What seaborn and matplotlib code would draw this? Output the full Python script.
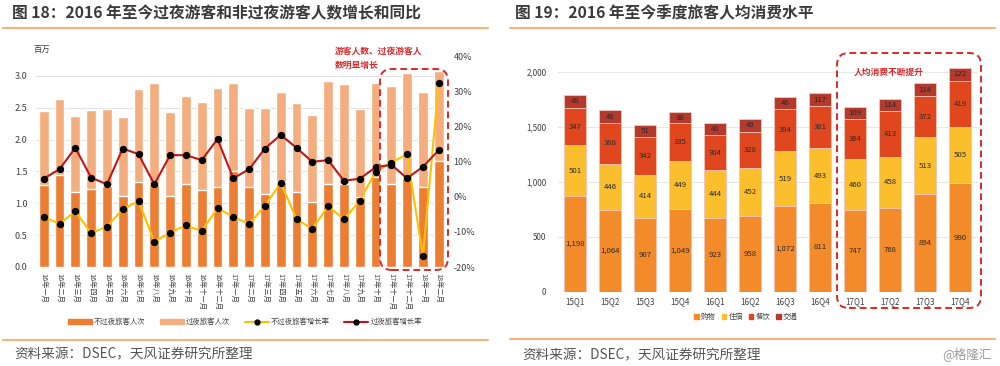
import numpy as np
import pandas as pd
import matplotlib
matplotlib.use("Agg")
import matplotlib.pyplot as plt
import seaborn as sns
from matplotlib.patches import Patch, FancyBboxPatch
from matplotlib.lines import Line2D
from matplotlib.transforms import IdentityTransform
from matplotlib.ticker import FuncFormatter

# ---- data: figure 18 (millions of visitors, yoy %) ----
month_cn = ['一', '二', '三', '四', '五', '六', '七', '八', '九', '十', '十一', '十二']
month_labels = ([f'16年{m}月' for m in month_cn] + [f'17年{m}月' for m in month_cn]
                + ['18年一月', '18年二月'])
same_day = [1.29, 1.44, 1.18, 1.23, 1.27, 1.12, 1.33, 1.30, 1.11, 1.30, 1.21, 1.25, 1.50,
            1.25, 1.15, 1.33, 1.18, 1.02, 1.30, 1.31, 1.10, 1.42, 1.31, 1.39, 1.25, 1.67]
overnight = [1.16, 1.20, 1.19, 1.24, 1.21, 1.23, 1.47, 1.58, 1.32, 1.38, 1.38, 1.56, 1.38,
             1.24, 1.35, 1.41, 1.39, 1.36, 1.62, 1.56, 1.38, 1.47, 1.53, 1.66, 1.49, 1.40]
same_day_yoy = [-5.7, -7.7, -4.1, -10.3, -8.5, -3.5, -1.2, -12.8, -10.2, -8.1, -9.8, -3.2, -5.7,
                -7.7, -2.6, 4.1, -6.3, -9.2, -2.6, -6.4, -1.1, 7.1, 9.8, 12.2, -17.0, 32.4]
overnight_yoy = [5.2, 7.9, 14.0, 5.5, 3.6, 13.8, 12.2, 3.6, 11.9, 11.9, 10.5, 16.5, 5.3,
                 7.9, 13.8, 17.7, 14.0, 10.0, 10.5, 4.6, 5.2, 8.4, 9.2, 5.3, 8.6, 13.3]

# ---- data: figure 19 (per-capita spending by quarter) ----
quarters = ['15Q1', '15Q2', '15Q3', '15Q4', '16Q1', '16Q2',
            '16Q3', '16Q4', '17Q1', '17Q2', '17Q3', '17Q4']
# bar heights as drawn in the source chart
shopping = [870, 745, 667, 755, 673, 691, 779, 806, 742, 764, 888, 985]
lodging = [460, 416, 397, 430, 433, 433, 497, 497, 464, 460, 515, 509]
dining = [343, 375, 339, 345, 315, 331, 385, 388, 364, 418, 379, 424]
transport = [115, 112, 115, 100, 109, 115, 112, 112, 112, 110, 112, 115]
# values printed on the segments
shopping_lbl = ['1,198', '1,064', '907', '1,049', '923', '958', '1,072', '811', '747', '768', '894', '990']
lodging_lbl = ['501', '446', '414', '449', '444', '452', '519', '493', '460', '458', '513', '505']
dining_lbl = ['347', '388', '342', '335', '304', '328', '394', '381', '364', '413', '372', '419']
transport_lbl = ['48', '48', '51', '38', '40', '49', '46', '117', '109', '114', '114', '122']

sns.set_style("white")
plt.rcParams['font.family'] = ['Noto Sans CJK SC', 'DejaVu Sans']
plt.rcParams['axes.unicode_minus'] = False

W, H = 1000, 366
fig = plt.figure(figsize=(W / 100, H / 100), dpi=100)


def fx(x):
    return x / W


def fy(y):
    return 1 - y / H


TITLE_C = '#3a3a3a'
LINE_C = '#F5B27A'
RED = '#D92A2A'

# ---------------- left chart ----------------
df1 = pd.DataFrame({'month': month_labels, 'same_day': same_day, 'overnight': overnight})
df1['total'] = df1['same_day'] + df1['overnight']

ax1 = fig.add_axes([fx(35.8), fy(267), 410.8 / W, (267 - 56.7) / H])
sns.barplot(data=df1, x='month', y='total', color='#F4AE7E', saturation=1, width=0.63, ax=ax1)
sns.barplot(data=df1, x='month', y='same_day', color='#EC7E33', saturation=1, width=0.63, ax=ax1)
ax1.set_xlim(-0.5, len(df1) - 0.5)
ax1.set_ylim(0, 3.3)
ax1.set_yticks(np.arange(0, 3.01, 0.5))
ax1.yaxis.set_major_formatter(FuncFormatter(lambda v, p: f'{v:.1f}'))
ax1.grid(axis='y', color='#E3E3E3', lw=0.8)
ax1.set_axisbelow(True)
ax1.set_xlabel('')
ax1.set_ylabel('')
ax1.tick_params(axis='y', length=0, labelsize=6.5, labelcolor='#404040', pad=6)
ax1.tick_params(axis='x', length=0, labelsize=5.2, labelcolor='#404040', pad=4)
ax1.set_xticks(range(len(df1)))
ax1.set_xticklabels(month_labels, rotation=270, va='top', ha='center')
sns.despine(ax=ax1, left=True, bottom=True)

ax1b = ax1.twinx()
x_idx = np.arange(len(df1))
sns.lineplot(x=x_idx, y=np.array(same_day_yoy) / 100, ax=ax1b, color='#FFC000', lw=1.5,
             marker='o', markersize=4.5, markerfacecolor='black', markeredgecolor='black')
sns.lineplot(x=x_idx, y=np.array(overnight_yoy) / 100, ax=ax1b, color='#C0161B', lw=1.5,
             marker='o', markersize=4.5, markerfacecolor='black', markeredgecolor='black')
ax1b.set_ylim(-0.2, 0.4)
ax1b.set_yticks(np.arange(-0.2, 0.41, 0.1))
ax1b.yaxis.set_major_formatter(FuncFormatter(lambda v, p: f'{v * 100:.0f}%'))
ax1b.tick_params(axis='y', length=0, labelsize=6.5, labelcolor='#404040', pad=5)
ax1b.set_xlim(-0.5, len(df1) - 0.5)
sns.despine(ax=ax1b, left=True, bottom=True, right=True)

fig.text(fx(33), fy(49), '百万', fontsize=6, color='#404040', va='center')
fig.text(fx(335), fy(51), '游客人数、过夜游客人', fontsize=6.3, color=RED, weight='bold', va='center')
fig.text(fx(335), fy(65), '数明显增长', fontsize=6.3, color=RED, weight='bold', va='center')

handles1 = [Patch(color='#EC7E33', label='不过夜旅客人次'),
            Patch(color='#F4AE7E', label='过夜旅客人次'),
            Line2D([], [], color='#FFC000', lw=1.5, marker='o', markersize=3.5,
                   mfc='black', mec='black', label='不过夜旅客增长率'),
            Line2D([], [], color='#C0161B', lw=1.5, marker='o', markersize=3.5,
                   mfc='black', mec='black', label='过夜旅客增长率')]
fig.legend(handles=handles1, loc='center', bbox_to_anchor=(fx(245), fy(322)), ncol=4,
           frameon=False, fontsize=5.3, handlelength=3.2, handleheight=0.6,
           columnspacing=2.0, handletextpad=0.3, labelcolor='#404040')

# ---------------- right chart ----------------
df2 = pd.DataFrame({'quarter': quarters, '购物': shopping, '住宿': lodging,
                    '餐饮': dining, '交通': transport})
layers = ['购物', '住宿', '餐饮', '交通']
colors2 = {'购物': '#F38B2B', '住宿': '#FBBE2C', '餐饮': '#E0471E', '交通': '#B33A2C'}
cum = df2[layers].cumsum(axis=1)

ax2 = fig.add_axes([fx(557.5), fy(291.7), 420 / W, 231 / H])
for name in reversed(layers):
    sns.barplot(x=df2['quarter'], y=cum[name], color=colors2[name], saturation=1,
                width=0.63, edgecolor='#F3C9C0', linewidth=0.6, ax=ax2)
ax2.set_xlim(-0.5, len(df2) - 0.5)
ax2.set_ylim(0, 2100)
ax2.set_yticks(np.arange(0, 2001, 500))
ax2.yaxis.set_major_formatter(FuncFormatter(lambda v, p: f'{v:,.0f}'))
ax2.grid(axis='y', color='#E6E6E6', lw=0.8)
ax2.set_axisbelow(True)
ax2.set_xlabel('')
ax2.set_ylabel('')
ax2.tick_params(axis='y', length=0, labelsize=5.8, labelcolor='#404040', pad=8)
ax2.tick_params(axis='x', length=0, labelsize=5.8, labelcolor='#404040', pad=4)
sns.despine(ax=ax2, left=True, bottom=True)

seg_labels = {'购物': shopping_lbl, '住宿': lodging_lbl, '餐饮': dining_lbl, '交通': transport_lbl}
for name in layers:
    centers = cum[name] - df2[name] / 2
    for i, (c, t) in enumerate(zip(centers, seg_labels[name])):
        ax2.text(i, c, t, ha='center', va='center', fontsize=5.6, color='#2a2a2a')

fig.text(fx(889), fy(72), '人均消费不断提升', fontsize=6.3, color=RED, weight='bold',
         ha='center', va='center')

handles2 = [Patch(color=colors2[n], label=n) for n in layers]
fig.legend(handles=handles2, loc='center', bbox_to_anchor=(fx(746), fy(317)), ncol=4,
           frameon=False, fontsize=5.3, handlelength=0.6, handleheight=0.6,
           columnspacing=0.8, handletextpad=0.3, labelcolor='#404040')

# ---------------- dashed highlight boxes ----------------
for x0, y0, x1, y1 in [(380, 69, 448, 270), (837, 53, 981, 308)]:
    box = FancyBboxPatch((x0, H - y1), x1 - x0, y1 - y0,
                         boxstyle='round,pad=0,rounding_size=12',
                         fill=False, ec=RED, lw=1.4, ls=(0, (3.5, 2)),
                         transform=IdentityTransform())
    fig.add_artist(box)

# ---------------- titles, rules, sources ----------------
fig.text(fx(12), fy(13), '图 18：2016 年至今过夜游客和非过夜游客人数增长和同比',
         fontsize=11.3, weight='bold', color=TITLE_C, va='center')
fig.text(fx(515), fy(13), '图 19：2016 年至今季度旅客人均消费水平',
         fontsize=11.3, weight='bold', color=TITLE_C, va='center')
for (a, b), y in [((3, 488), 28), ((510, 995), 28), ((3, 488), 340), ((510, 995), 339)]:
    fig.add_artist(Line2D([fx(a), fx(b)], [fy(y), fy(y)], color=LINE_C, lw=1.5,
                          transform=fig.transFigure))
fig.text(fx(14), fy(354), '资料来源：DSEC，天风证券研究所整理', fontsize=9.8,
         color='#555555', va='center')
fig.text(fx(522), fy(355), '资料来源：DSEC，天风证券研究所整理', fontsize=9.8,
         color='#555555', va='center')
fig.text(fx(992), fy(354), '@格隆汇', fontsize=9, color='#9a9a9a', ha='right', va='center')

fig.savefig('out.png', dpi=100)
